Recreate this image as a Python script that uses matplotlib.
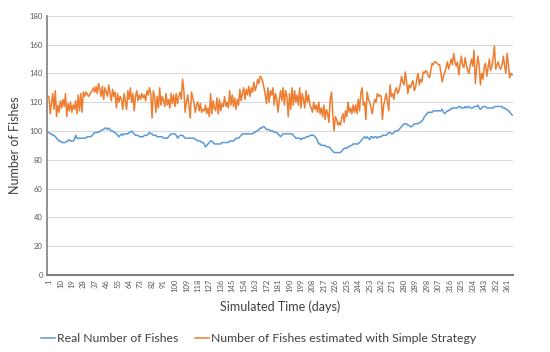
import matplotlib.pyplot as plt

plt.rcParams['font.family'] = ['Lato', 'DejaVu Sans']

# simulated day numbers and x tick labels
days = list(range(1, 366))
tick_days = list(range(1, 366, 9))

# real number of fishes (blue)
real = [
    99, 98, 98, 97, 97, 96, 95, 94, 93, 93,
    92, 92, 92, 92, 93, 93, 94, 93, 93, 93,
    94, 97, 95, 95, 95, 95, 95, 95, 95, 95,
    96, 96, 96, 96, 97, 98, 99, 99, 99, 99,
    100, 100, 101, 101, 102, 102, 101, 102, 101, 100,
    100, 99, 99, 98, 97, 96, 97, 98, 97, 98,
    98, 98, 98, 99, 99, 100, 99, 98, 97, 97,
    97, 96, 96, 96, 96, 97, 97, 97, 98, 99,
    98, 98, 97, 97, 97, 96, 96, 96, 96, 96,
    95, 95, 95, 95, 96, 97, 98, 98, 98, 98,
    97, 95, 96, 97, 97, 97, 96, 95, 95, 95,
    95, 95, 95, 95, 95, 94, 94, 93, 93, 93,
    92, 92, 91, 89, 90, 91, 92, 93, 93, 92,
    91, 91, 91, 91, 91, 91, 92, 92, 92, 92,
    92, 92, 93, 93, 93, 93, 94, 95, 95, 95,
    96, 97, 98, 98, 98, 98, 98, 98, 98, 98,
    98, 99, 99, 100, 100, 101, 102, 102, 103, 103,
    102, 101, 101, 101, 100, 100, 100, 99, 99, 99,
    98, 97, 96, 97, 98, 98, 98, 98, 98, 98,
    98, 98, 97, 96, 95, 95, 95, 95, 94, 95,
    95, 95, 96, 96, 96, 97, 97, 97, 97, 96,
    95, 93, 91, 91, 90, 90, 90, 90, 89, 89,
    89, 88, 87, 86, 85, 85, 85, 85, 85, 85,
    86, 87, 88, 88, 88, 89, 89, 90, 90, 91,
    91, 91, 91, 91, 92, 93, 94, 95, 96, 95,
    96, 95, 94, 96, 96, 95, 96, 96, 95, 96,
    96, 96, 97, 97, 97, 97, 98, 99, 99, 98,
    98, 99, 100, 100, 100, 101, 102, 103, 104, 105,
    105, 105, 104, 104, 103, 103, 104, 105, 105, 105,
    105, 106, 106, 107, 108, 110, 111, 112, 113, 113,
    113, 113, 114, 114, 114, 114, 114, 114, 114, 115,
    113, 112, 113, 114, 114, 115, 115, 116, 116, 116,
    116, 116, 117, 117, 116, 116, 116, 117, 116, 117,
    117, 116, 116, 116, 117, 117, 117, 118, 116, 115,
    116, 117, 117, 117, 116, 116, 116, 116, 116, 116,
    117, 117, 117, 117, 117, 117, 117, 116, 116, 115,
    115, 114, 113, 112, 111,
]

# estimated with simple strategy (orange)
estimated = [
    124, 112, 119, 126, 115, 128, 110, 118, 113, 121,
    116, 122, 117, 126, 110, 119, 114, 120, 113, 118,
    115, 121, 112, 125, 114, 126, 113, 127, 124, 127,
    126, 124, 125, 127, 128, 130, 127, 131, 126, 133,
    129, 124, 131, 122, 130, 127, 124, 132, 126, 121,
    129, 124, 127, 116, 126, 120, 124, 122, 115, 126,
    121, 115, 128, 122, 130, 120, 126, 114, 124, 128,
    121, 125, 122, 126, 123, 125, 121, 128, 125, 130,
    126, 109, 128, 124, 113, 124, 116, 130, 118, 124,
    121, 117, 126, 118, 122, 116, 126, 119, 125, 117,
    126, 119, 124, 127, 122, 136, 128, 113, 120, 125,
    118, 109, 127, 123, 119, 113, 118, 120, 114, 119,
    113, 115, 114, 118, 112, 116, 110, 126, 112, 121,
    116, 114, 123, 112, 122, 114, 119, 117, 124, 117,
    120, 116, 128, 118, 125, 117, 123, 115, 122, 118,
    129, 121, 126, 130, 122, 129, 125, 131, 124, 130,
    127, 134, 128, 131, 136, 133, 138, 137, 134, 130,
    125, 119, 130, 120, 128, 125, 130, 118, 126, 122,
    113, 122, 128, 121, 130, 118, 128, 124, 110, 126,
    115, 130, 118, 128, 120, 125, 118, 130, 116, 126,
    122, 116, 128, 120, 125, 118, 116, 113, 120, 115,
    118, 113, 120, 112, 116, 110, 118, 108, 115, 112,
    106, 122, 127, 112, 100, 110, 108, 104, 106, 104,
    109, 112, 106, 114, 110, 120, 113, 116, 112, 118,
    113, 118, 112, 122, 114, 126, 130, 118, 120, 108,
    127, 122, 120, 116, 112, 118, 122, 120, 126, 124,
    125, 124, 108, 118, 122, 126, 120, 114, 132, 124,
    126, 122, 128, 130, 126, 128, 132, 138, 134, 132,
    141, 134, 126, 132, 130, 133, 135, 128, 130, 136,
    140, 132, 136, 134, 141, 140, 142, 141, 138, 137,
    142, 147, 146, 148, 148, 147, 146, 146, 140, 134,
    138, 141, 144, 148, 143, 146, 150, 146, 154, 148,
    145, 148, 139, 146, 152, 146, 144, 151, 146, 142,
    140, 146, 150, 145, 156, 133, 144, 152, 146, 132,
    140, 136, 145, 147, 138, 144, 150, 142, 145, 151,
    159, 143, 146, 148, 144, 143, 146, 152, 145, 140,
    154, 146, 137, 140, 139,
]

fig = plt.figure(figsize=(5.5, 3.52), dpi=100)
ax = fig.add_axes([0.0855, 0.219, 0.847, 0.736])

ax.plot(days, real, color='#5B9BD5', lw=1.1, label='Real Number of Fishes')
ax.plot(days, estimated, color='#ED7D31', lw=1.1,
        label='Number of Fishes estimated with Simple Strategy')

ax.set_xlim(-0.5, 365.5)
ax.set_ylim(0, 180)
ax.set_yticks(range(0, 181, 20))
ax.set_xticks(tick_days)
ax.set_xticklabels([str(d) for d in tick_days], rotation=90)
ax.tick_params(length=0, labelsize=5.5, labelcolor='#595959', pad=3)

ax.grid(axis='y', color='#d9d9d9', lw=0.8)
ax.set_axisbelow(True)
for side in ['top', 'right']:
    ax.spines[side].set_visible(False)
ax.spines['left'].set_color('#7f7f7f')
ax.spines['left'].set_linewidth(1.2)
ax.spines['bottom'].set_color('#7f7f7f')
ax.spines['bottom'].set_linewidth(1.5)

ax.set_ylabel('Number of Fishes', fontsize=9, color='#404040', labelpad=6)
ax.set_xlabel('Simulated Time (days)', fontsize=9, color='#404040', labelpad=6)

fig.legend(loc='center', bbox_to_anchor=(0.47, 0.037), ncol=2, frameon=False,
           fontsize=8.8, handlelength=1.2, handletextpad=0.15, columnspacing=1.3,
           labelcolor='#404040')

fig.savefig('out.png', dpi=100)
